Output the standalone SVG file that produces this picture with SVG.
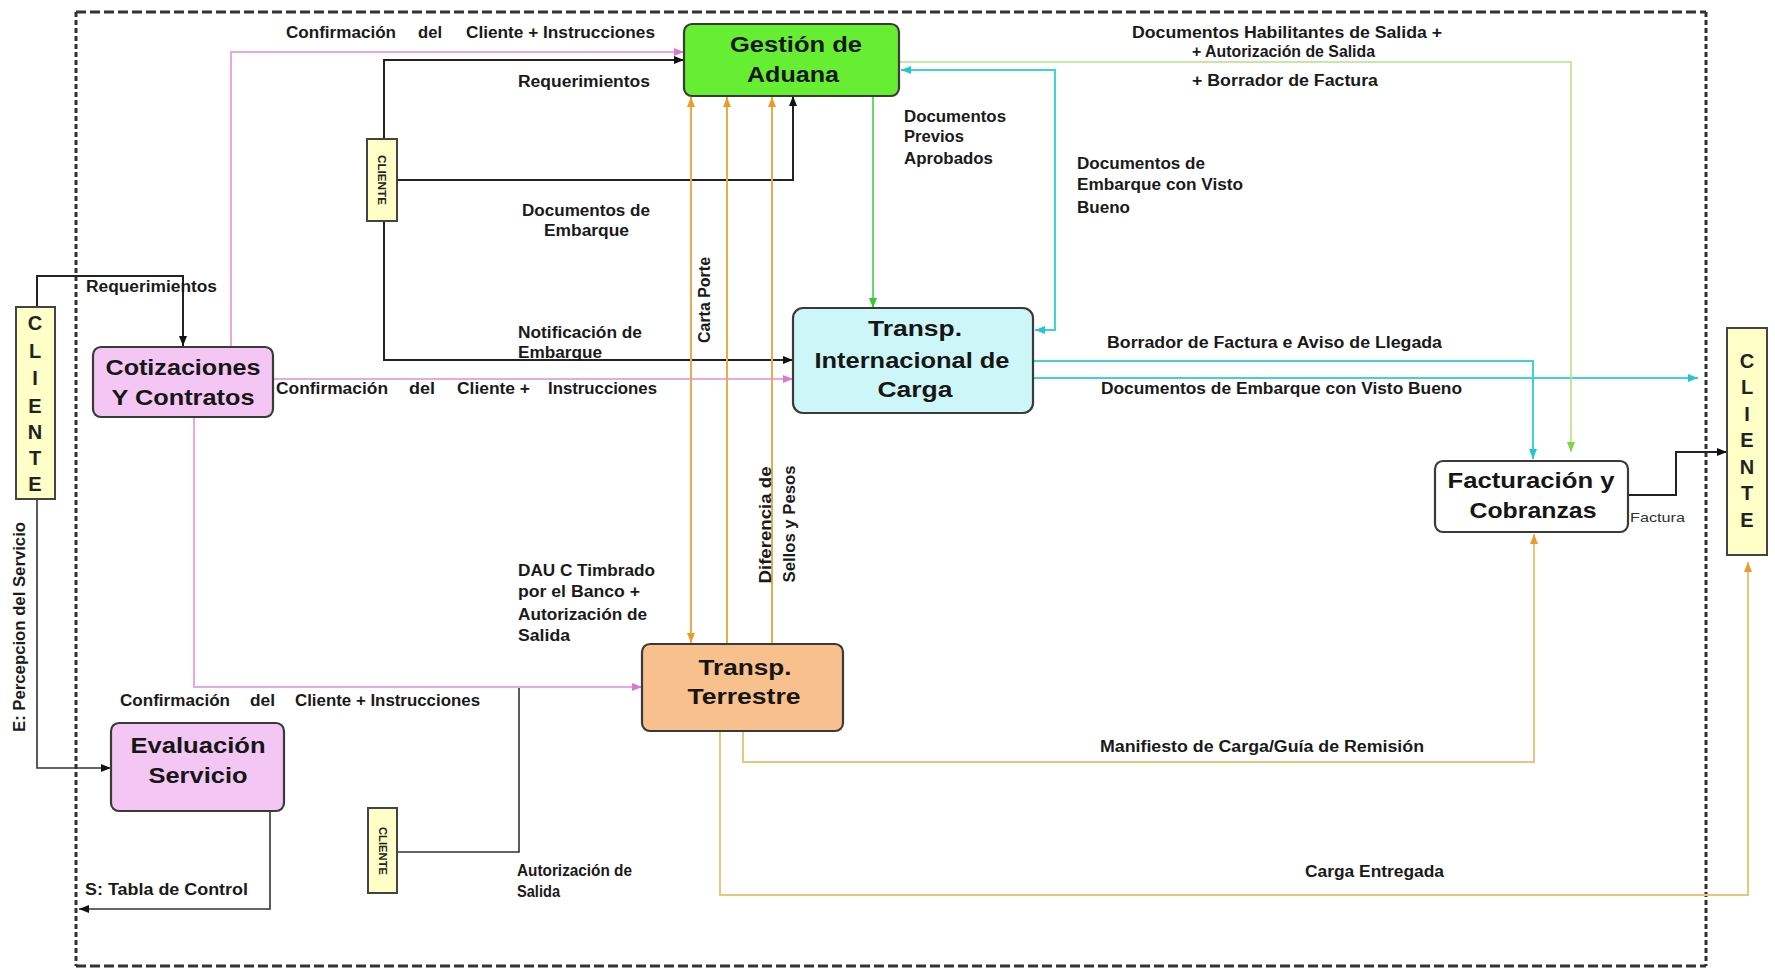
<svg xmlns="http://www.w3.org/2000/svg" width="1775" height="970" viewBox="0 0 1775 970">
  <style>
    .lbl { font-family: "Liberation Sans Narrow", "Liberation Sans", Arial, sans-serif; font-weight: bold; font-size: 16px; fill: #1a1a1a; }
    .lbl-n { font-family: "Liberation Sans", Arial, sans-serif; font-size: 13px; fill: #333; }
    .ttl { font-family: "Liberation Sans", Arial, sans-serif; font-weight: bold; font-size: 22px; fill: #161616; text-anchor: middle; }
    .cli { font-family: "Liberation Sans", Arial, sans-serif; font-weight: bold; font-size: 20px; fill: #222; text-anchor: middle; }
    .cli-s { font-family: "Liberation Sans", Arial, sans-serif; font-weight: bold; font-size: 11px; fill: #222; text-anchor: middle; }
    .box { stroke: #3a3a3a; stroke-width: 2.2; }
    .yel { fill: #FFFFC8; stroke: #444; stroke-width: 2; }
    .c { fill: none; }
    .blk { stroke: #222; stroke-width: 2; }
    .blk-t { stroke: #333; stroke-width: 1.6; }
    .pnk { stroke: #E6A8E6; stroke-width: 2; }
    .org { stroke: #E9AA50; stroke-width: 2; }
    .org2 { stroke: #ECC47C; stroke-width: 2; }
    .cyn { stroke: #40D2D6; stroke-width: 2; }
    .grn { stroke: #44CC44; stroke-width: 1.6; }
    .lgr { stroke: #B6E08A; stroke-width: 1.6; }
    .frame-h { fill: none; stroke: #333; stroke-width: 3; stroke-dasharray: 10 4; }
    .frame-v { fill: none; stroke: #333; stroke-width: 3; stroke-dasharray: 5 3; }
  </style>
  <defs>
    <marker id="aBlk" markerUnits="userSpaceOnUse" markerWidth="10" markerHeight="8" refX="10" refY="4" orient="auto-start-reverse"><path d="M0,0 L10,4 L0,8 z" fill="#111"/></marker>
    <marker id="aPnk" markerUnits="userSpaceOnUse" markerWidth="10" markerHeight="8" refX="10" refY="4" orient="auto-start-reverse"><path d="M0,0 L10,4 L0,8 z" fill="#D67AD6"/></marker>
    <marker id="aOrg" markerUnits="userSpaceOnUse" markerWidth="10" markerHeight="8" refX="10" refY="4" orient="auto-start-reverse"><path d="M0,0 L10,4 L0,8 z" fill="#EE9A2A"/></marker>
    <marker id="aCyn" markerUnits="userSpaceOnUse" markerWidth="10" markerHeight="8" refX="10" refY="4" orient="auto-start-reverse"><path d="M0,0 L10,4 L0,8 z" fill="#22C8D0"/></marker>
    <marker id="aGrn" markerUnits="userSpaceOnUse" markerWidth="10" markerHeight="8" refX="10" refY="4" orient="auto-start-reverse"><path d="M0,0 L10,4 L0,8 z" fill="#33CC33"/></marker>
    <marker id="aLgr" markerUnits="userSpaceOnUse" markerWidth="10" markerHeight="8" refX="10" refY="4" orient="auto-start-reverse"><path d="M0,0 L10,4 L0,8 z" fill="#77D844"/></marker>
  </defs>

  <rect width="1775" height="970" fill="#ffffff"/>

  <!-- system boundary -->
  <g id="boundary">
    <path class="frame-h" d="M76,12 H1706 M76,966 H1706"/>
    <path class="frame-v" d="M76,12 V966 M1706,12 V966"/>
  </g>

  <!-- connectors -->
  <g id="connectors">
    <!-- black -->
    <path class="c blk" d="M37,307 V276 H183 V346" marker-end="url(#aBlk)"/>
    <path class="c blk-t" d="M37,499 V768 H111" marker-end="url(#aBlk)"/>
    <path class="c blk-t" d="M270,811 V909 H79" marker-end="url(#aBlk)"/>
    <path class="c blk" d="M384,139 V60 H684" marker-end="url(#aBlk)"/>
    <path class="c blk" d="M384,221 V360 H793" marker-end="url(#aBlk)"/>
    <path class="c blk" d="M397,180 H793 V96" marker-end="url(#aBlk)"/>
    <path class="c blk-t" d="M397,852 H519 V687"/>
    <path class="c blk" d="M1628,495 H1676 V452 H1727" marker-end="url(#aBlk)"/>
    <!-- pink -->
    <path class="c pnk" d="M231,347 V52 H684" marker-end="url(#aPnk)"/>
    <path class="c pnk" d="M273,379 H793" marker-end="url(#aPnk)"/>
    <path class="c pnk" d="M194,417 V687 H642" marker-end="url(#aPnk)"/>
    <!-- orange -->
    <path class="c org" d="M691,97 V643" marker-start="url(#aOrg)" marker-end="url(#aOrg)"/>
    <path class="c org" d="M727,644 V97" marker-end="url(#aOrg)"/>
    <path class="c org" d="M772,644 V97" marker-end="url(#aOrg)"/>
    <path class="c org2" d="M743,731 V762 H1534 V534" marker-end="url(#aOrg)"/>
    <path class="c org2" d="M720,731 V895 H1748 V562" marker-end="url(#aOrg)"/>
    <!-- cyan -->
    <path class="c cyn" d="M901,70 H1055 V330 H1035" marker-start="url(#aCyn)" marker-end="url(#aCyn)"/>
    <path class="c cyn" d="M1033,361 H1533 V459" marker-end="url(#aCyn)"/>
    <path class="c cyn" d="M1033,378 H1698" marker-end="url(#aCyn)"/>
    <!-- green -->
    <path class="c grn" d="M873,96 V308" marker-end="url(#aGrn)"/>
    <path class="c lgr" d="M899,62 H1571 V452" marker-end="url(#aLgr)"/>
  </g>

  <!-- connector labels -->
  <g id="labels">
    <text class="lbl" y="38"><tspan x="286" textLength="110" lengthAdjust="spacingAndGlyphs">Confirmación</tspan><tspan x="418" textLength="24" lengthAdjust="spacingAndGlyphs">del</tspan><tspan x="466" textLength="189" lengthAdjust="spacingAndGlyphs">Cliente + Instrucciones</tspan></text>
    <text class="lbl" x="518" y="87" textLength="132" lengthAdjust="spacingAndGlyphs">Requerimientos</text>
    <text class="lbl" x="522" y="216" textLength="128" lengthAdjust="spacingAndGlyphs">Documentos de</text>
    <text class="lbl" x="544" y="236" textLength="85" lengthAdjust="spacingAndGlyphs">Embarque</text>
    <text class="lbl" x="518" y="338" textLength="124" lengthAdjust="spacingAndGlyphs">Notificación de</text>
    <text class="lbl" x="518" y="358" textLength="84" lengthAdjust="spacingAndGlyphs">Embarque</text>
    <text class="lbl" y="394"><tspan x="276" textLength="112" lengthAdjust="spacingAndGlyphs">Confirmación</tspan><tspan x="409" textLength="26" lengthAdjust="spacingAndGlyphs">del</tspan><tspan x="457" textLength="73" lengthAdjust="spacingAndGlyphs">Cliente +</tspan><tspan x="548" textLength="109" lengthAdjust="spacingAndGlyphs">Instrucciones</tspan></text>
    <text class="lbl" x="86" y="292" textLength="131" lengthAdjust="spacingAndGlyphs">Requerimientos</text>
    <text class="lbl" x="518" y="576" textLength="137" lengthAdjust="spacingAndGlyphs">DAU C Timbrado</text>
    <text class="lbl" x="518" y="597" textLength="122" lengthAdjust="spacingAndGlyphs">por el Banco +</text>
    <text class="lbl" x="518" y="620" textLength="129" lengthAdjust="spacingAndGlyphs">Autorización de</text>
    <text class="lbl" x="518" y="641" textLength="52" lengthAdjust="spacingAndGlyphs">Salida</text>
    <text class="lbl" y="706"><tspan x="120" textLength="110" lengthAdjust="spacingAndGlyphs">Confirmación</tspan><tspan x="250" textLength="25" lengthAdjust="spacingAndGlyphs">del</tspan><tspan x="295" textLength="185" lengthAdjust="spacingAndGlyphs">Cliente + Instrucciones</tspan></text>
    <text class="lbl" x="517" y="876" textLength="115" lengthAdjust="spacingAndGlyphs">Autorización de</text>
    <text class="lbl" x="517" y="897" textLength="43" lengthAdjust="spacingAndGlyphs">Salida</text>
    <text class="lbl" x="85" y="895" textLength="163" lengthAdjust="spacingAndGlyphs">S: Tabla de Control</text>
    <text class="lbl" transform="translate(20,627) rotate(-90)" x="0" y="5" text-anchor="middle" textLength="210" lengthAdjust="spacingAndGlyphs">E: Percepcion del Servicio</text>
    <text class="lbl" transform="translate(705,300) rotate(-90)" x="0" y="5" text-anchor="middle" textLength="86" lengthAdjust="spacingAndGlyphs">Carta Porte</text>
    <text class="lbl" transform="translate(766,525) rotate(-90)" x="0" y="5" text-anchor="middle" textLength="117" lengthAdjust="spacingAndGlyphs">Diferencia de</text>
    <text class="lbl" transform="translate(790,524) rotate(-90)" x="0" y="5" text-anchor="middle" textLength="117" lengthAdjust="spacingAndGlyphs">Sellos y Pesos</text>
    <text class="lbl" x="904" y="122" textLength="102" lengthAdjust="spacingAndGlyphs">Documentos</text>
    <text class="lbl" x="904" y="142" textLength="60" lengthAdjust="spacingAndGlyphs">Previos</text>
    <text class="lbl" x="904" y="164" textLength="89" lengthAdjust="spacingAndGlyphs">Aprobados</text>
    <text class="lbl" x="1077" y="169" textLength="128" lengthAdjust="spacingAndGlyphs">Documentos de</text>
    <text class="lbl" x="1077" y="190" textLength="166" lengthAdjust="spacingAndGlyphs">Embarque con Visto</text>
    <text class="lbl" x="1077" y="213" textLength="53" lengthAdjust="spacingAndGlyphs">Bueno</text>
    <text class="lbl" x="1132" y="38" textLength="310" lengthAdjust="spacingAndGlyphs">Documentos Habilitantes de Salida +</text>
    <text class="lbl" x="1192" y="57" font-size="13" textLength="183" lengthAdjust="spacingAndGlyphs">+ Autorización de Salida</text>
    <text class="lbl" x="1192" y="86" textLength="186" lengthAdjust="spacingAndGlyphs">+ Borrador de Factura</text>
    <text class="lbl" x="1107" y="348" textLength="335" lengthAdjust="spacingAndGlyphs">Borrador de Factura e Aviso de Llegada</text>
    <text class="lbl" x="1101" y="394" textLength="361" lengthAdjust="spacingAndGlyphs">Documentos de Embarque con Visto Bueno</text>
    <text class="lbl-n" x="1630" y="522" textLength="55" lengthAdjust="spacingAndGlyphs">Factura</text>
    <text class="lbl" x="1100" y="752" textLength="324" lengthAdjust="spacingAndGlyphs">Manifiesto de Carga/Guía de Remisión</text>
    <text class="lbl" x="1305" y="877" textLength="139" lengthAdjust="spacingAndGlyphs">Carga Entregada</text>
  </g>

  <!-- nodes -->
  <g id="cliente-izq">
    <rect class="yel" x="16" y="307" width="39" height="192"/>
    <text class="cli"><tspan x="35" y="330">C</tspan><tspan x="35" y="358">L</tspan><tspan x="35" y="385">I</tspan><tspan x="35" y="413">E</tspan><tspan x="35" y="439">N</tspan><tspan x="35" y="465">T</tspan><tspan x="35" y="491">E</tspan></text>
  </g>
  <g id="cliente-der">
    <rect class="yel" x="1727" y="328" width="40" height="227"/>
    <text class="cli"><tspan x="1747" y="368">C</tspan><tspan x="1747" y="394">L</tspan><tspan x="1747" y="421">I</tspan><tspan x="1747" y="447">E</tspan><tspan x="1747" y="474">N</tspan><tspan x="1747" y="500">T</tspan><tspan x="1747" y="527">E</tspan></text>
  </g>
  <g id="cliente-sup">
    <rect class="yel" x="367" y="139" width="30" height="82"/>
    <text class="cli-s" transform="translate(382,180) rotate(90)" x="0" y="4" textLength="50" lengthAdjust="spacingAndGlyphs">CLIENTE</text>
  </g>
  <g id="cliente-inf">
    <rect class="yel" x="368" y="808" width="29" height="85"/>
    <text class="cli-s" transform="translate(382.5,851) rotate(90)" x="0" y="4" textLength="48" lengthAdjust="spacingAndGlyphs">CLIENTE</text>
  </g>
  <g id="cotizaciones">
    <rect class="box" x="93" y="347" width="180" height="70" rx="8" fill="#F4C6F4"/>
    <text class="ttl" x="183" y="375" textLength="155" lengthAdjust="spacingAndGlyphs">Cotizaciones</text>
    <text class="ttl" x="183" y="405" textLength="143" lengthAdjust="spacingAndGlyphs">Y Contratos</text>
  </g>
  <g id="gestion-aduana">
    <rect class="box" x="684" y="24" width="215" height="72" rx="8" fill="#66EE33"/>
    <text class="ttl" x="796" y="52" textLength="132" lengthAdjust="spacingAndGlyphs">Gestión de</text>
    <text class="ttl" x="793" y="82" textLength="92" lengthAdjust="spacingAndGlyphs">Aduana</text>
  </g>
  <g id="transp-internacional">
    <rect class="box" x="793" y="308" width="240" height="105" rx="10" fill="#CCF6F8"/>
    <text class="ttl" x="915" y="336" textLength="94" lengthAdjust="spacingAndGlyphs">Transp.</text>
    <text class="ttl" x="912" y="368" textLength="195" lengthAdjust="spacingAndGlyphs">Internacional de</text>
    <text class="ttl" x="915" y="397" textLength="75" lengthAdjust="spacingAndGlyphs">Carga</text>
  </g>
  <g id="facturacion">
    <rect class="box" x="1435" y="461" width="193" height="71" rx="8" fill="#FFFFFF"/>
    <text class="ttl" x="1531" y="488" textLength="167" lengthAdjust="spacingAndGlyphs">Facturación y</text>
    <text class="ttl" x="1533" y="518" textLength="127" lengthAdjust="spacingAndGlyphs">Cobranzas</text>
  </g>
  <g id="transp-terrestre">
    <rect class="box" x="642" y="644" width="201" height="87" rx="8" fill="#F8C08C"/>
    <text class="ttl" x="745" y="675" textLength="93" lengthAdjust="spacingAndGlyphs">Transp.</text>
    <text class="ttl" x="744" y="704" textLength="113" lengthAdjust="spacingAndGlyphs">Terrestre</text>
  </g>
  <g id="evaluacion">
    <rect class="box" x="111" y="723" width="173" height="88" rx="8" fill="#F4C6F4"/>
    <text class="ttl" x="198" y="753" textLength="135" lengthAdjust="spacingAndGlyphs">Evaluación</text>
    <text class="ttl" x="198" y="783" textLength="99" lengthAdjust="spacingAndGlyphs">Servicio</text>
  </g>
</svg>
